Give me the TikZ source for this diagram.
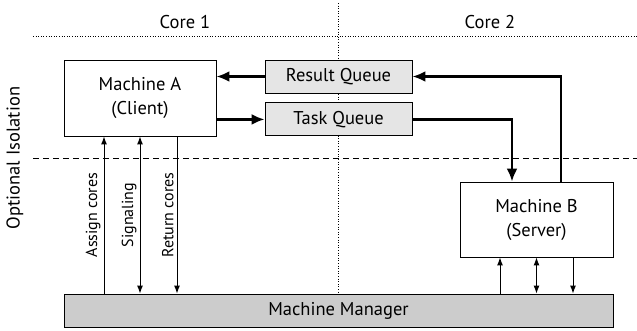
\documentclass[tikz,border=0pt]{standalone}
\usepackage{fontspec}
\setmainfont{PT Sans}
\usetikzlibrary{arrows.meta, positioning, calc}
\definecolor{queuegray}{gray}{0.9}
\definecolor{managergray}{gray}{0.8}

\begin{document}
\begin{tikzpicture}[x=1pt, y=-1pt,
    machine/.style={draw, fill=white, line width=0.9pt, align=center,
        minimum width=152pt, minimum height=76pt, font=\fontsize{18.5}{24}\selectfont},
    queue/.style={draw, fill=queuegray, line width=0.9pt,
        minimum width=147pt, minimum height=33pt, font=\fontsize{18.5}{22}\selectfont},
    bigarrow/.style={line width=2.4pt, -{Latex[length=13pt, width=11pt]}},
    thinarrow/.style={line width=1pt, {Latex[length=8pt, width=6pt]}-{Latex[length=8pt, width=6pt]}},
    sidelabel/.style={midway, rotate=90, above, inner sep=3pt, font=\fontsize{16}{19}\selectfont}]
    \useasboundingbox (0,0) rectangle (637,330);

    % columns and isolation border
    \draw[dotted, line width=0.6pt] (33,36) -- (637,36);
    \draw[dotted, line width=0.6pt] (338,3) -- (338,292);
    \draw[dashed, dash pattern=on 6pt off 4pt, line width=0.6pt] (33,158) -- (637,158);
    \node[font=\fontsize{18.5}{22}\selectfont] (core1) at (185,22) {Core 1};
    \node[font=\fontsize{18.5}{22}\selectfont] (core2) at (490,22) {Core 2};
    \node[rotate=90, font=\fontsize{18.5}{22}\selectfont] (iso) at (15,158) {Optional Isolation};

    % machines and queues
    \node[machine] (ma) at (140,98) {Machine A\\(Client)};
    \node[queue] (rq) at (338.5,76.5) {Result Queue};
    \node[queue, below=9pt of rq] (tq) {Task Queue};
    \node[machine, minimum width=153pt, minimum height=75pt] (mb) at (536.5,219.5) {Machine B\\(Server)};
    \node[draw, fill=managergray, line width=0.9pt, minimum width=549pt, minimum height=33pt,
          font=\fontsize{18.5}{22}\selectfont] (mgr) at (338.5,310.5) {Machine Manager};

    % queue traffic
    \draw[bigarrow] (rq.west) -- (rq.west -| ma.east);
    \draw[bigarrow] (tq.west -| ma.east) -- (tq.west);
    \draw[bigarrow] (tq.east) -| ($(mb.north)+(-24.5,0)$);
    \draw[bigarrow] ($(mb.north)+(24.5,0)$) |- (rq.east);

    % manager links of machine A
    \coordinate (a1) at ($(ma.south)+(-36,0)$);
    \coordinate (a2) at (ma.south);
    \coordinate (a3) at ($(ma.south)+(37,0)$);
    \draw[thinarrow, {Latex[length=8pt, width=6pt]}-] (a1) -- (a1 |- mgr.north) node[sidelabel] {Assign cores};
    \draw[thinarrow] (a2) -- (a2 |- mgr.north) node[sidelabel] {Signaling};
    \draw[thinarrow, -{Latex[length=8pt, width=6pt]}] (a3) -- (a3 |- mgr.north) node[sidelabel] {Return cores};

    % manager links of machine B
    \coordinate (b1) at ($(mb.south)+(-36.5,0)$);
    \coordinate (b2) at (mb.south);
    \coordinate (b3) at ($(mb.south)+(36.5,0)$);
    \draw[thinarrow, {Latex[length=8pt, width=6pt]}-] (b1) -- (b1 |- mgr.north);
    \draw[thinarrow] (b2) -- (b2 |- mgr.north);
    \draw[thinarrow, -{Latex[length=8pt, width=6pt]}] (b3) -- (b3 |- mgr.north);
\end{tikzpicture}
\end{document}
